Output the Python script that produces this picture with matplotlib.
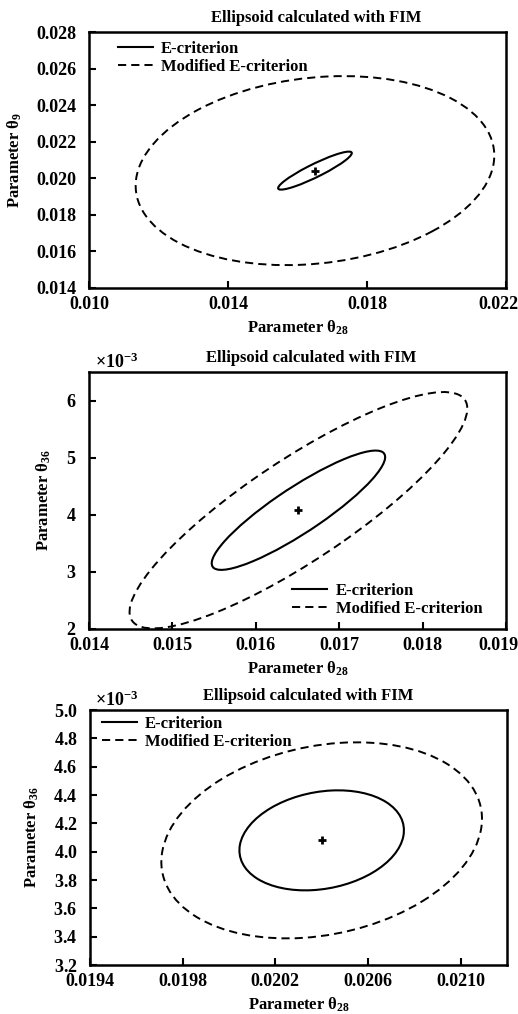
import numpy as np
import matplotlib.pyplot as plt
from matplotlib.patches import Ellipse
from matplotlib.lines import Line2D
from matplotlib.ticker import FormatStrFormatter, ScalarFormatter
from matplotlib.transforms import ScaledTranslation

plt.rcParams['font.family'] = ['Liberation Serif', 'DejaVu Serif']
plt.rcParams['font.weight'] = 'bold'
plt.rcParams['axes.titleweight'] = 'bold'
plt.rcParams['axes.labelweight'] = 'bold'
plt.rcParams['mathtext.fontset'] = 'custom'
plt.rcParams['mathtext.rm'] = 'Liberation Serif:bold'
plt.rcParams['mathtext.it'] = 'Liberation Serif:bold'
plt.rcParams['mathtext.bf'] = 'Liberation Serif:bold'

# estimated parameter values (centre of each panel)
center_x = [0.0165, 0.01651, 0.02040]
center_y = [0.02042, 0.00408, 0.00408]

# ellipse spreads: half x-extent, half y-extent, correlation
e_sx = [0.00106, 0.00104, 0.000355]
e_sy = [0.00104, 0.001045, 0.000353]
e_rho = [0.92, 0.89, 0.20]

m_sx = [0.00516, 0.002025, 0.000692]
m_sy = [0.00517, 0.00207, 0.000692]
m_rho = [0.16, 0.86, 0.22]

y_labels = [r'Parameter θ$_{9}$', r'Parameter θ$_{36}$', r'Parameter θ$_{36}$']
x_label = r'Parameter θ$_{28}$'
title = 'Ellipsoid calculated with FIM'

xlims = [(0.010, 0.022), (0.014, 0.019), (0.0194, 0.0212)]
ylims = [(0.014, 0.028), (0.002, 0.0065), (0.0032, 0.0050)]
xticks = [[0.010, 0.014, 0.018, 0.022],
          [0.014, 0.015, 0.016, 0.017, 0.018, 0.019],
          [0.0194, 0.0198, 0.0202, 0.0206, 0.0210]]
yticks = [np.arange(0.014, 0.0281, 0.002),
          [0.002, 0.003, 0.004, 0.005, 0.006],
          np.arange(0.0032, 0.00501, 0.0002)]
xfmt = ['%.3f', '%.3f', '%.4f']
legend_loc = ['upper left', 'lower right', 'upper left']
legend_anchor = [(0.041, 1.012), (0.971, 0.0), (0.0, 1.024)]
title_x = [0.545, 0.532, 0.523]


def ellipse_patch(cx, cy, sx, sy, rho, **kw):
    cov = np.array([[sx * sx, rho * sx * sy], [rho * sx * sy, sy * sy]])
    vals, vecs = np.linalg.eigh(cov)
    w = 2 * np.sqrt(vals[1])
    h = 2 * np.sqrt(vals[0])
    ang = np.degrees(np.arctan2(vecs[1, 1], vecs[0, 1]))
    return Ellipse((cx, cy), w, h, angle=ang, fill=False, **kw)


fig = plt.figure(figsize=(5.18, 10.14), dpi=100)
boxes = [[0.172, 0.716, 0.805, 0.2524],
         [0.172, 0.3797, 0.805, 0.2534],
         [0.1737, 0.0483, 0.8051, 0.2515]]

dash = (0, (4.2, 2.6))
for i in range(3):
    ax = fig.add_axes(boxes[i])
    ax.add_patch(ellipse_patch(center_x[i], center_y[i], e_sx[i], e_sy[i], e_rho[i],
                               color='black', lw=1.5))
    ax.add_patch(ellipse_patch(center_x[i], center_y[i], m_sx[i], m_sy[i], m_rho[i],
                               color='black', lw=1.4, linestyle=dash))
    ax.plot(center_x[i], center_y[i], marker='+', color='black', ms=6, mew=2)

    ax.set_xlim(xlims[i])
    ax.set_ylim(ylims[i])
    ax.set_xticks(xticks[i])
    ax.set_yticks(yticks[i])
    ax.xaxis.set_major_formatter(FormatStrFormatter(xfmt[i]))
    if i == 0:
        ax.yaxis.set_major_formatter(FormatStrFormatter('%.3f'))
    else:
        sf = ScalarFormatter(useMathText=True)
        sf.set_powerlimits((-2, 2))
        ax.yaxis.set_major_formatter(sf)
        off = ax.yaxis.get_offset_text()
        off.set_fontsize(13)
        off.set_x(0.013)

    ax.tick_params(direction='in', length=5, width=1.5, labelsize=13,
                   top=False, right=False)
    ax.tick_params(axis='x', pad=6)
    ax.tick_params(axis='y', pad=9)
    for s in ax.spines.values():
        s.set_linewidth(1.8)

    # the last x label sits a little inside the right edge in the original
    if i < 2:
        last = ax.get_xticklabels()[-1]
        last.set_transform(last.get_transform() +
                           ScaledTranslation(-0.08, 0, fig.dpi_scale_trans))

    ax.set_xlabel(x_label, fontsize=12, labelpad=4)
    ax.set_ylabel(y_labels[i], fontsize=12, labelpad=9)
    ax.set_title(title, fontsize=12, x=title_x[i], pad=7)

    handles = [Line2D([], [], color='black', lw=1.5),
               Line2D([], [], color='black', lw=1.4, linestyle=dash)]
    ax.legend(handles, ['E-criterion', 'Modified E-criterion'], loc=legend_loc[i],
              bbox_to_anchor=legend_anchor[i],
              frameon=False, fontsize=12, handlelength=2.1, handletextpad=0.5,
              labelspacing=0.15, borderaxespad=0.3)

fig.savefig('out.png', dpi=100)
